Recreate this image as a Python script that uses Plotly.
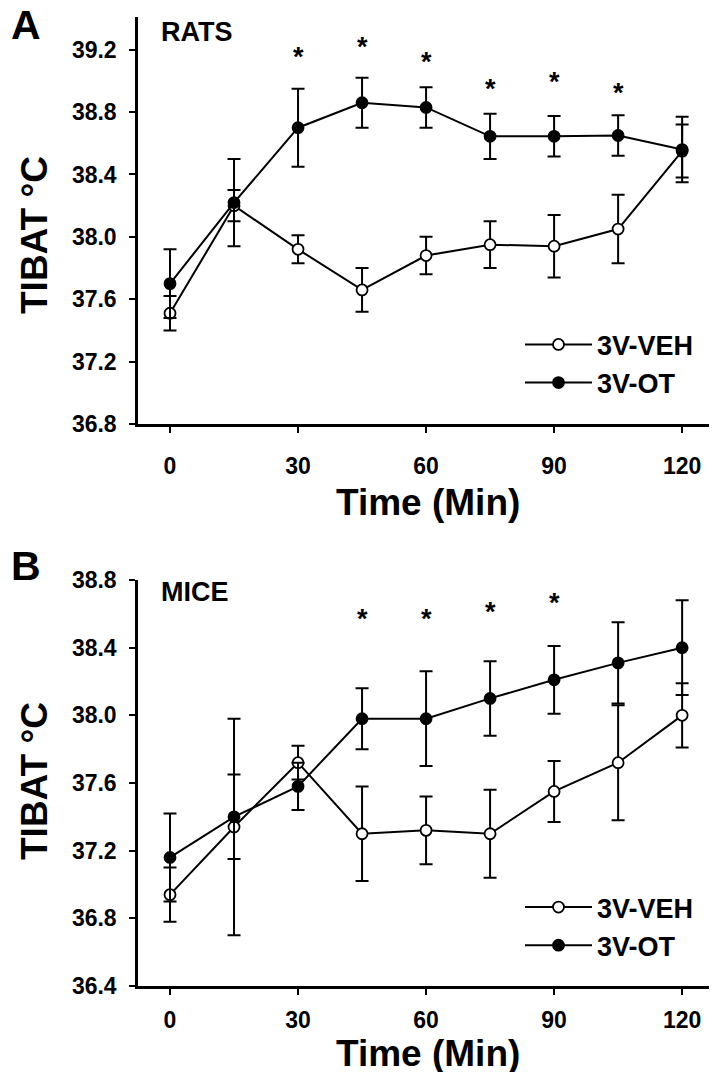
import plotly.graph_objects as go

# tempo (min)
time = [0, 15, 30, 45, 60, 75, 90, 105, 120]

# A - ratos
rats_veh = [37.51, 38.20, 37.92, 37.66, 37.88, 37.95, 37.94, 38.05, 38.55]
rats_veh_sem = [0.11, 0.10, 0.09, 0.14, 0.12, 0.15, 0.20, 0.22, 0.17]
rats_ot = [37.70, 38.22, 38.70, 38.86, 38.83, 38.645, 38.645, 38.65, 38.56]
rats_ot_sem = [0.22, 0.28, 0.25, 0.16, 0.13, 0.145, 0.13, 0.13, 0.21]
rats_star_t = [30, 45, 60, 75, 90, 105]
rats_star_y = [39.17, 39.24, 39.14, 38.97, 39.01, 38.94]

# B - camundongos
mice_veh = [36.94, 37.34, 37.72, 37.30, 37.32, 37.30, 37.55, 37.72, 38.00]
mice_veh_sem = [0.16, 0.64, 0.10, 0.28, 0.20, 0.26, 0.18, 0.34, 0.19]
mice_ot = [37.16, 37.40, 37.58, 37.98, 37.98, 38.10, 38.21, 38.31, 38.40]
mice_ot_sem = [0.26, 0.25, 0.14, 0.18, 0.28, 0.22, 0.20, 0.24, 0.28]
mice_star_t = [45, 60, 75, 90]
mice_star_y = [38.59, 38.59, 38.63, 38.68]

x_ticks = [0, 30, 60, 90, 120]
FONT = "Liberation Sans, Arial, sans-serif"

fig = go.Figure()


def add_series(y, sem, name, fill, xa, ya, legend):
    fig.add_trace(go.Scatter(
        x=time, y=y, name=name,
        mode="lines+markers",
        line=dict(color="black", width=2),
        marker=dict(size=11, color=fill, line=dict(color="black", width=1.8)),
        error_y=dict(type="data", array=sem, visible=True,
                     color="black", thickness=2, width=6.5),
        xaxis=xa, yaxis=ya, legend=legend,
    ))


add_series(rats_veh, rats_veh_sem, "3V-VEH", "white", "x", "y", "legend")
add_series(rats_ot, rats_ot_sem, "3V-OT", "black", "x", "y", "legend")
add_series(mice_veh, mice_veh_sem, "3V-VEH", "white", "x2", "y2", "legend2")
add_series(mice_ot, mice_ot_sem, "3V-OT", "black", "x2", "y2", "legend2")

# asteriscos
for t_list, y_list, xa, ya in [(rats_star_t, rats_star_y, "x", "y"),
                               (mice_star_t, mice_star_y, "x2", "y2")]:
    for t, yv in zip(t_list, y_list):
        fig.add_annotation(x=t, y=yv, xref=xa, yref=ya, text="*",
                           showarrow=False, yshift=-3,
                           font=dict(family=FONT, size=27, color="black", weight="bold"))

axis_common = dict(
    showline=True, linewidth=2.5, linecolor="black",
    ticks="outside", ticklen=6, tickwidth=2, tickcolor="black",
    showgrid=False, zeroline=False, automargin=False,
    tickfont=dict(family=FONT, size=23, color="black", weight="bold"),
)
leg_font = dict(family=FONT, size=27, color="black", weight="bold")

# a página tem 8px de margem no body; margens compensadas
fig.update_layout(
    width=717, height=1072,
    paper_bgcolor="white", plot_bgcolor="rgba(0,0,0,0)",
    margin=dict(l=130, r=13, t=9, b=94),
    showlegend=True,
    xaxis=dict(axis_common, domain=[0, 1], range=[-7.5, 127], anchor="y",
               tickvals=x_ticks, ticklabelstandoff=14),
    yaxis=dict(axis_common, domain=[0.58, 1], range=[36.8, 39.41],
               tick0=36.8, dtick=0.4, tickformat=".1f",
               anchor="x", ticklabelstandoff=8),
    xaxis2=dict(axis_common, domain=[0, 1], range=[-7.5, 127], anchor="y2",
                tickvals=x_ticks, ticklabelstandoff=6),
    yaxis2=dict(axis_common, domain=[0, 0.419], range=[36.4, 38.8],
                tick0=36.4, dtick=0.4, tickformat=".1f",
                anchor="x2", ticklabelstandoff=8),
    legend=dict(x=0.6655, y=0.642, xanchor="left", yanchor="middle",
                itemwidth=67, bgcolor="rgba(0,0,0,0)", font=leg_font),
    legend2=dict(x=0.6655, y=0.0614, xanchor="left", yanchor="middle",
                 itemwidth=67, bgcolor="rgba(0,0,0,0)", font=leg_font),
)

bold = dict(family=FONT, color="black", weight="bold")
annotations = [
    dict(text="A", x=9, y=25, size=41, xanchor="left"),
    dict(text="B", x=9, y=566, size=41, xanchor="left"),
    dict(text="RATS", x=159, y=32, size=27, xanchor="left"),
    dict(text="MICE", x=159, y=592, size=27, xanchor="left"),
    dict(text="Time (Min)", x=428, y=502, size=37, xanchor="center"),
    dict(text="Time (Min)", x=428, y=1053, size=37, xanchor="center"),
]
for a in annotations:
    fig.add_annotation(
        text=a["text"], showarrow=False,
        xref="paper", yref="paper",
        x=(a["x"] - 138) / 574, y=(986 - a["y"]) / 969,
        xanchor=a["xanchor"], yanchor="middle",
        font=dict(bold, size=a["size"]),
    )

for yc in [235, 781]:
    fig.add_annotation(
        text="TIBAT °C", showarrow=False, textangle=-90,
        xref="paper", yref="paper",
        x=(34 - 138) / 574, y=(986 - yc) / 969,
        xanchor="center", yanchor="middle",
        font=dict(bold, size=37),
    )

fig.write_html("out.html")
